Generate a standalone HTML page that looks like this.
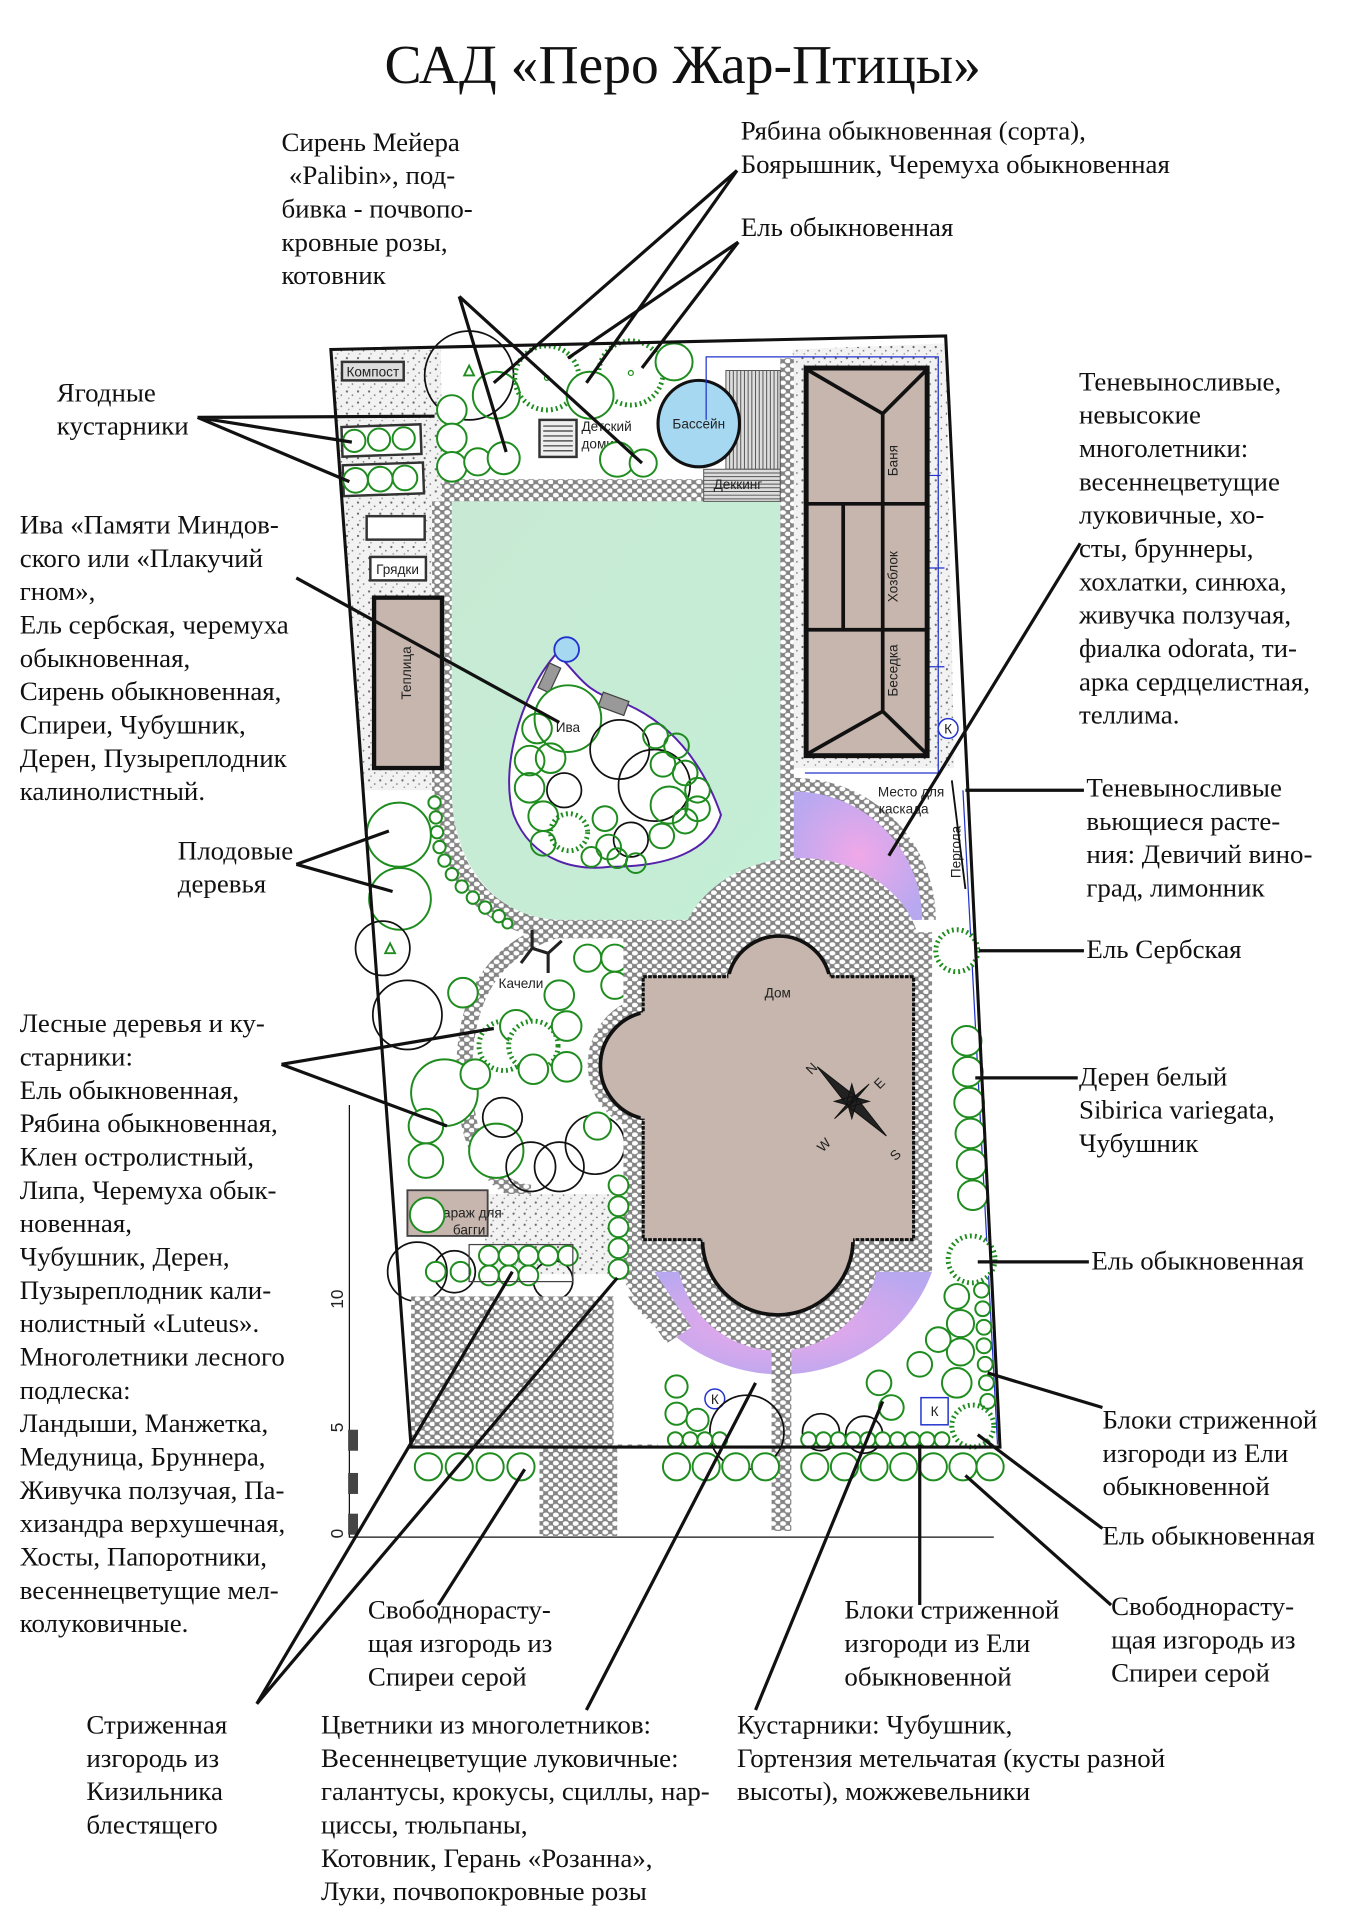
<!DOCTYPE html>
<html><head><meta charset="utf-8"><style>
html,body{margin:0;padding:0;background:#fff}
svg{display:block}
.t{font-family:"Liberation Serif",serif;font-size:21.8px;fill:#111}
.s{font-family:"Liberation Sans",sans-serif;font-size:11px;fill:#222}
.g{fill:#fff;stroke:#1e8c1e;stroke-width:1.6}
.k{fill:none;stroke:#111;stroke-width:1.4}
.sp{fill:#fff;stroke:#1e8c1e;stroke-width:4;stroke-dasharray:1.5 2.5}
.ld{stroke:#111;stroke-width:2.6;fill:none}
</style></head><body>
<svg width="1358" height="1920" viewBox="0 0 1100 1555" xmlns="http://www.w3.org/2000/svg">
<defs>
<pattern id="peb" width="8" height="7" patternUnits="userSpaceOnUse">
<rect width="8" height="7" fill="#858585"/>
<ellipse cx="2.2" cy="2" rx="2.5" ry="1.9" fill="#fff"/>
<ellipse cx="6.2" cy="5.3" rx="2.4" ry="1.8" fill="#fff"/>
</pattern>
<pattern id="stp" width="9" height="9" patternUnits="userSpaceOnUse">
<rect width="9" height="9" fill="#f2f2f2"/>
<circle cx="2" cy="2" r="0.9" fill="#666"/>
<circle cx="6.5" cy="5" r="0.7" fill="#777"/>
<circle cx="3.5" cy="7.5" r="0.6" fill="#888"/>
</pattern>
<radialGradient id="pur" cx="0.5" cy="0.5" r="0.6">
<stop offset="0" stop-color="#f0a8e8"/><stop offset="1" stop-color="#b8a8f0"/>
</radialGradient>
<linearGradient id="lawn" x1="0" y1="0" x2="1" y2="1">
<stop offset="0" stop-color="#c8ead4"/><stop offset="1" stop-color="#c4eed6"/>
</linearGradient>
</defs>

<text x="553" y="67" text-anchor="middle" style="font-family:'Liberation Serif',serif;font-size:45px;fill:#111">САД «Перо Жар-Птицы»</text>

<polygon points="268,283 766,272 810,1172 333,1172" fill="#fff"/>
<polygon points="268,283 357,282 362,640 294,640" fill="url(#stp)"/>
<polygon points="642,283 766,278 773,622 642,622" fill="url(#stp)"/>
<rect x="358" y="388" width="279" height="18" fill="url(#peb)"/>
<path d="M358,406 L358,640 C358,705 395,752 455,752 L636,752" fill="none" stroke="url(#peb)" stroke-width="16"/>
<path d="M366,406 L632,406 L632,745 L455,745 C402,745 366,700 366,640 Z" fill="url(#lawn)"/>
<rect x="632" y="290" width="11" height="460" fill="url(#peb)"/>
<g stroke="#555" stroke-width="0.8">
<rect x="588" y="300" width="44" height="80" fill="#ddd"/>
<path d="M591,300V380M594,300V380M597,300V380M600,300V380M603,300V380M606,300V380M609,300V380M612,300V380M615,300V380M618,300V380M621,300V380M624,300V380M627,300V380M630,300V380"/>
<rect x="570" y="380" width="62" height="26" fill="#ddd"/>
<path d="M570,383H632M570,386H632M570,389H632M570,392H632M570,395H632M570,398H632M570,401H632M570,404H632"/>
</g>
<text x="578" y="396" class="s">Деккинг</text>
<ellipse cx="566" cy="343" rx="33" ry="35" fill="#a6d8f2" stroke="#111" stroke-width="2.5"/>
<text x="566" y="347" class="s" text-anchor="middle">Бассейн</text>
<rect x="437" y="340" width="30" height="30" fill="#eee" stroke="#333" stroke-width="2"/>
<path d="M440,345H464M440,349H464M440,353H464M440,357H464M440,361H464M440,365H464" stroke="#555" stroke-width="1.2"/>
<text x="471" y="349" class="s">Детский</text><text x="471" y="363" class="s">домик</text>
<path d="M572,340V289H760V626H652" fill="none" stroke="#2233cc" stroke-width="1"/>
<path d="M752,460H765M752,385H762M752,540H765" stroke="#2233cc" stroke-width="1"/>
<circle cx="768" cy="590" r="8" fill="#fff" stroke="#2233cc" stroke-width="1.2"/>
<text x="768" y="594" class="s" text-anchor="middle">К</text>
<rect x="653" y="298" width="98" height="314" fill="#c6b6ae" stroke="#111" stroke-width="4"/>
<path d="M655,300L715,335L750,300M715,335V576M655,610L715,576L750,610M653,408H751M653,510H751M683,408V510" stroke="#111" stroke-width="3" fill="none"/>
<text transform="translate(727,373) rotate(-90)" class="s" text-anchor="middle">Баня</text>
<text transform="translate(727,467) rotate(-90)" class="s" text-anchor="middle">Хозблок</text>
<text transform="translate(727,543) rotate(-90)" class="s" text-anchor="middle">Беседка</text>

<rect x="277" y="293" width="50" height="15" fill="#ddd" stroke="#333" stroke-width="2"/>
<text x="302" y="305" class="s" text-anchor="middle">Компост</text>
<rect x="277" y="345" width="64" height="24" fill="#fff" stroke="#333" stroke-width="2" transform="rotate(-2 300 357)"/>
<rect x="278" y="376" width="65" height="25" fill="#fff" stroke="#333" stroke-width="2" transform="rotate(-2 300 388)"/>
<circle cx="287" cy="357" r="9" class="g"/><circle cx="307" cy="356" r="9" class="g"/><circle cx="327" cy="355" r="9" class="g"/>
<circle cx="288" cy="389" r="10" class="g"/><circle cx="308" cy="388" r="10" class="g"/><circle cx="328" cy="387" r="10" class="g"/>
<rect x="297" y="418" width="47" height="19" fill="#fff" stroke="#333" stroke-width="2"/>
<rect x="300" y="451" width="45" height="19" fill="#fff" stroke="#333" stroke-width="2"/>
<text x="322" y="465" class="s" text-anchor="middle">Грядки</text>
<rect x="303" y="484" width="55" height="138" fill="#c6b6ae" stroke="#111" stroke-width="3.5"/>
<text transform="translate(333,545) rotate(-90)" class="s" text-anchor="middle">Теплица</text>

<circle cx="380" cy="304" r="36" class="k"/>
<polygon points="380,296 376,304 384,304" fill="#fff" stroke="#1e8c1e" stroke-width="1.5"/>
<circle cx="443" cy="306" r="26" class="sp"/><circle cx="443" cy="306" r="2" fill="none" stroke="#1e8c1e"/>
<circle cx="511" cy="302" r="26" class="sp"/><circle cx="511" cy="302" r="2" fill="none" stroke="#1e8c1e"/>
<circle cx="402" cy="320" r="19" class="g" style="fill:none"/>
<circle cx="478" cy="320" r="19" class="g"/>
<circle cx="546" cy="293" r="15" class="g"/>
<circle cx="366" cy="332" r="12" class="g"/><circle cx="366" cy="355" r="12" class="g"/>
<circle cx="366" cy="378" r="12" class="g"/><circle cx="387" cy="374" r="11" class="g"/><circle cx="408" cy="371" r="13" class="g"/>
<circle cx="500" cy="372" r="14" class="g"/><circle cx="521" cy="375" r="11" class="g"/>

<path d="M450,530 C420,565 405,625 416,660 C432,700 470,705 494,702 C540,702 575,690 584,660 C570,620 545,585 502,568 C470,560 466,540 450,530 Z" fill="#fff" stroke="#5522aa" stroke-width="1.6"/>
<circle cx="459" cy="526" r="10" fill="#a6d8f2" stroke="#2233cc" stroke-width="1.5"/>
<rect x="440" y="538" width="10" height="22" fill="#999" stroke="#444" transform="rotate(25 445 549)"/>
<rect x="486" y="564" width="22" height="12" fill="#999" stroke="#444" transform="rotate(20 497 570)"/>
<circle cx="460" cy="582" r="27" class="g"/><text x="460" y="593" class="s" text-anchor="middle">Ива</text>
<circle cx="502" cy="607" r="24" class="k"/><circle cx="530" cy="636" r="29" class="k"/><circle cx="457" cy="640" r="14" class="k"/><circle cx="511" cy="680" r="14" class="k"/>
<circle cx="435" cy="590" r="12" class="g" style="fill:none"/><circle cx="429" cy="616" r="12" class="g" style="fill:none"/><circle cx="446" cy="614" r="12" class="g" style="fill:none"/>
<circle cx="429" cy="638" r="12" class="g" style="fill:none"/><circle cx="440" cy="661" r="12" class="g" style="fill:none"/><circle cx="440" cy="683" r="10" class="g" style="fill:none"/>
<circle cx="461" cy="674" r="15" class="sp" style="fill:none"/>
<circle cx="490" cy="663" r="10" class="g" style="fill:none"/><circle cx="493" cy="686" r="10" class="g" style="fill:none"/><circle cx="479" cy="694" r="8" class="g" style="fill:none"/><circle cx="500" cy="695" r="8" class="g" style="fill:none"/><circle cx="515" cy="699" r="8" class="g" style="fill:none"/>
<circle cx="531" cy="596" r="10" class="g" style="fill:none"/><circle cx="548" cy="604" r="10" class="g" style="fill:none"/><circle cx="555" cy="626" r="10" class="g" style="fill:none"/><circle cx="537" cy="619" r="10" class="g" style="fill:none"/>
<circle cx="565" cy="640" r="10" class="g" style="fill:none"/><circle cx="565" cy="655" r="10" class="g" style="fill:none"/><circle cx="542" cy="652" r="15" class="g" style="fill:none"/><circle cx="555" cy="665" r="10" class="g" style="fill:none"/><circle cx="536" cy="677" r="10" class="g" style="fill:none"/>

<circle cx="323" cy="676" r="26" class="g"/><circle cx="324" cy="728" r="25" class="g"/>
<circle cx="310" cy="768" r="22" class="k"/><polygon points="316,764 312,772 320,772" fill="#fff" stroke="#1e8c1e" stroke-width="1.5"/>
<circle cx="330" cy="822" r="28" class="k"/>
<circle cx="352" cy="650" r="5" class="g"/><circle cx="353" cy="662" r="5" class="g"/><circle cx="354" cy="674" r="5" class="g"/><circle cx="356" cy="686" r="5" class="g"/><circle cx="360" cy="697" r="5" class="g"/><circle cx="366" cy="708" r="5" class="g"/><circle cx="374" cy="718" r="5" class="g"/><circle cx="383" cy="727" r="5" class="g"/><circle cx="393" cy="735" r="5" class="g"/><circle cx="404" cy="742" r="5" class="g"/><circle cx="411" cy="748" r="4" class="g"/>

<path d="M455,752 C390,770 376,820 376,870 C376,930 400,965 430,966" fill="none" stroke="url(#peb)" stroke-width="13"/>
<rect x="393" y="967" width="103" height="65" fill="url(#stp)"/>
<rect x="330" y="964" width="65" height="37" fill="#c6b6ae" stroke="#444" stroke-width="1.5"/>
<text x="380" y="986" class="s" text-anchor="middle">Гараж для</text><text x="380" y="1000" class="s" text-anchor="middle">багги</text>
<g stroke="#222" stroke-width="2.5" fill="none"><path d="M431,753V768L422,780M431,768L444,772L455,762M444,772V788"/></g>
<text x="422" y="800" class="s" text-anchor="middle">Качели</text>
<circle cx="375" cy="804" r="12" class="g"/><circle cx="408" cy="847" r="20" class="sp"/><circle cx="360" cy="885" r="27" class="g"/>
<circle cx="345" cy="912" r="14" class="g"/><circle cx="345" cy="940" r="14" class="g"/><circle cx="385" cy="870" r="12" class="g"/>
<circle cx="346" cy="984" r="14" class="g"/><circle cx="402" cy="932" r="22" class="g"/>
<circle cx="407" cy="905" r="16" class="k"/><circle cx="430" cy="945" r="20" class="k"/><circle cx="453" cy="945" r="20" class="k"/><circle cx="482" cy="927" r="24" class="k"/>
<circle cx="418" cy="831" r="13" class="g"/><circle cx="432" cy="847" r="20" class="sp"/><circle cx="432" cy="866" r="12" class="g"/>
<circle cx="459" cy="831" r="12" class="g"/><circle cx="459" cy="864" r="12" class="g"/><circle cx="484" cy="912" r="11" class="g"/>
<circle cx="453" cy="806" r="12" class="g"/><circle cx="476" cy="776" r="11" class="g"/><circle cx="498" cy="776" r="11" class="g"/><circle cx="498" cy="798" r="11" class="g"/>
<circle cx="338" cy="1030" r="24" class="k"/><circle cx="368" cy="1030" r="17" class="k"/><circle cx="448" cy="1037" r="16" class="k"/>

<path d="M643,745 L643,630 A115,115 0 0 1 758,745 Z" fill="url(#peb)"/>
<path d="M643,745 L643,641 A104,104 0 0 1 747,745 Z" fill="url(#pur)"/>
<ellipse cx="648" cy="775" rx="98" ry="80" fill="url(#peb)"/>
<rect x="505" y="755" width="250" height="275" fill="url(#peb)"/>
<circle cx="532" cy="862" r="56" fill="url(#peb)"/>
<rect x="333" y="1050" width="200" height="122" fill="url(#peb)"/>
<path d="M497,1030 A143,143 0 0 0 755,1030 L755,1170 L497,1170 Z" fill="#fff"/>
<path d="M510,1030 A130,125 0 0 0 755,1030 Z" fill="url(#pur)"/>
<path d="M500,1030 L530,1030 L560,1075 L540,1088 Z" fill="url(#peb)"/>
<circle cx="630" cy="1012" r="82" fill="url(#peb)"/>
<rect x="625" y="1085" width="16" height="155" fill="url(#peb)"/>
<rect x="437" y="1172" width="63" height="72" fill="url(#peb)"/>
<rect x="521" y="791" width="219" height="213" fill="#c6b6ae" stroke="#111" stroke-width="2.5" stroke-dasharray="3 1"/>
<path d="M590,791 A42,42 0 0 1 672,791" fill="#c6b6ae" stroke="#111" stroke-width="3"/>
<path d="M521,820 A44,44 0 0 0 521,906" fill="#c6b6ae" stroke="#111" stroke-width="3"/>
<path d="M569,1004 A61,61 0 0 0 691,1004" fill="#c6b6ae" stroke="#111" stroke-width="3"/>
<rect x="590" y="789" width="82" height="6" fill="#c6b6ae"/>
<rect x="519" y="820" width="6" height="86" fill="#c6b6ae"/>
<rect x="569" y="1000" width="122" height="6" fill="#c6b6ae"/>
<text x="630" y="808" class="s" text-anchor="middle">Дом</text>
<g transform="translate(690,892)">
<path d="M-28,-28 L3,-4 L-3,4 Z M28,28 L-3,4 L3,-4 Z M-14,14 L-2,0 L2,0Z M14,-14 L0,-2 L0,2Z M0,-14 L4,0 L0,14 L-4,0Z M-14,0 L0,-4 L14,0 L0,4Z" fill="#222" stroke="#111" stroke-width="0.8"/>
</g>
<text x="660" y="868" class="s" transform="rotate(-45 660 868)" text-anchor="middle">N</text>
<text x="715" y="880" class="s" transform="rotate(-45 715 880)" text-anchor="middle">E</text>
<text x="670" y="930" class="s" transform="rotate(-45 670 930)" text-anchor="middle">W</text>
<text x="728" y="938" class="s" transform="rotate(-45 728 938)" text-anchor="middle">S</text>

<text transform="translate(778,690) rotate(-90)" class="s" text-anchor="middle">Пергола</text>
<text x="738" y="645" class="s" text-anchor="middle">Место для</text><text x="732" y="659" class="s" text-anchor="middle">каскада</text>
<path d="M771,632 L782,720" stroke="#111" stroke-width="1.5"/>
<path d="M780,640 L808,1170" stroke="#2233cc" stroke-width="1"/>
<circle cx="775" cy="770" r="17" class="sp"/>
<circle cx="783" cy="843" r="12" class="g"/><circle cx="784" cy="868" r="12" class="g"/><circle cx="785" cy="893" r="12" class="g"/><circle cx="786" cy="918" r="12" class="g"/><circle cx="787" cy="943" r="12" class="g"/><circle cx="788" cy="968" r="12" class="g"/>
<circle cx="787" cy="1020" r="19" class="sp"/>
<circle cx="795" cy="1045" r="6" class="g"/><circle cx="796" cy="1060" r="6" class="g"/><circle cx="797" cy="1075" r="6" class="g"/><circle cx="797" cy="1090" r="6" class="g"/><circle cx="798" cy="1105" r="6" class="g"/><circle cx="799" cy="1120" r="6" class="g"/><circle cx="800" cy="1135" r="6" class="g"/>
<circle cx="775" cy="1050" r="10" class="g"/><circle cx="778" cy="1072" r="11" class="g"/><circle cx="778" cy="1095" r="11" class="g"/><circle cx="760" cy="1085" r="10" class="g"/><circle cx="745" cy="1105" r="10" class="g"/><circle cx="775" cy="1120" r="12" class="g"/>
<circle cx="788" cy="1155" r="17" class="sp"/>
<rect x="746" y="1132" width="22" height="22" fill="#fff" stroke="#2233cc" stroke-width="1.2"/><text x="757" y="1147" class="s" text-anchor="middle">К</text>
<circle cx="579" cy="1133" r="8" fill="#fff" stroke="#2233cc" stroke-width="1.2"/><text x="579" y="1137" class="s" text-anchor="middle">К</text>
<circle cx="605" cy="1160" r="30" class="k"/><circle cx="665" cy="1160" r="15" class="k"/><circle cx="700" cy="1162" r="15" class="k"/>
<circle cx="548" cy="1123" r="9" class="g"/><circle cx="548" cy="1145" r="9" class="g"/><circle cx="565" cy="1150" r="9" class="g"/><circle cx="722" cy="1140" r="10" class="g"/><circle cx="712" cy="1120" r="10" class="g"/>
<g>
<circle cx="547" cy="1166" r="6" class="g"/><circle cx="559" cy="1166" r="6" class="g"/><circle cx="571" cy="1166" r="6" class="g"/><circle cx="583" cy="1166" r="6" class="g"/>
<circle cx="655" cy="1166" r="6" class="g"/><circle cx="667" cy="1166" r="6" class="g"/><circle cx="679" cy="1166" r="6" class="g"/><circle cx="691" cy="1166" r="6" class="g"/><circle cx="703" cy="1166" r="6" class="g"/><circle cx="715" cy="1166" r="6" class="g"/><circle cx="727" cy="1166" r="6" class="g"/><circle cx="739" cy="1166" r="6" class="g"/><circle cx="751" cy="1166" r="6" class="g"/><circle cx="763" cy="1166" r="6" class="g"/>
</g>
<circle cx="396" cy="1017" r="8" class="g"/><circle cx="412" cy="1017" r="8" class="g"/><circle cx="428" cy="1017" r="8" class="g"/><circle cx="444" cy="1017" r="8" class="g"/><circle cx="460" cy="1017" r="8" class="g"/>
<circle cx="353" cy="1030" r="8" class="g"/><circle cx="373" cy="1030" r="8" class="g"/><circle cx="396" cy="1033" r="8" class="g"/><circle cx="412" cy="1033" r="8" class="g"/><circle cx="428" cy="1033" r="8" class="g"/>
<circle cx="501" cy="960" r="8" class="g"/><circle cx="501" cy="977" r="8" class="g"/><circle cx="501" cy="994" r="8" class="g"/><circle cx="501" cy="1011" r="8" class="g"/><circle cx="501" cy="1028" r="8" class="g"/>
<rect x="380" y="1008" width="84" height="30" fill="none" stroke="#444" stroke-width="1"/>

<path d="M268,283 L766,272 L810,1172 L333,1172 Z" fill="none" stroke="#111" stroke-width="2.5"/>
<circle cx="347" cy="1188" r="11" class="g"/><circle cx="372" cy="1188" r="11" class="g"/><circle cx="397" cy="1188" r="11" class="g"/><circle cx="422" cy="1188" r="11" class="g"/>
<circle cx="548" cy="1188" r="11" class="g"/><circle cx="572" cy="1188" r="11" class="g"/><circle cx="596" cy="1188" r="11" class="g"/><circle cx="620" cy="1188" r="11" class="g"/>
<circle cx="660" cy="1188" r="11" class="g"/><circle cx="684" cy="1188" r="11" class="g"/><circle cx="708" cy="1188" r="11" class="g"/><circle cx="732" cy="1188" r="11" class="g"/><circle cx="756" cy="1188" r="11" class="g"/><circle cx="780" cy="1188" r="11" class="g"/><circle cx="802" cy="1188" r="11" class="g"/>
<path d="M283,895 V1245 H805" stroke="#111" stroke-width="1" fill="none"/>
<rect x="282" y="1158" width="8" height="17" fill="#444"/><rect x="282" y="1193" width="8" height="17" fill="#444"/><rect x="282" y="1226" width="8" height="17" fill="#444"/>
<text transform="translate(278,1060) rotate(-90)" class="s" style="font-size:14px">10</text>
<text transform="translate(278,1160) rotate(-90)" class="s" style="font-size:14px">5</text>
<text transform="translate(278,1246) rotate(-90)" class="s" style="font-size:14px">0</text>

<g class="ld">
<path d="M372,240L410,366M372,240L520,375"/>
<path d="M597,138L400,310M597,138L475,310"/>
<path d="M598,196L460,290M598,196L520,298"/>
<path d="M160,338L352,337M160,338L285,358M160,338L283,390"/>
<path d="M240,468L453,585"/>
<path d="M240,700L315,673M240,700L318,722"/>
<path d="M228,862L400,833M228,862L362,912"/>
<path d="M875,440L720,693"/>
<path d="M782,640H878"/>
<path d="M793,770H878"/>
<path d="M790,873H873"/>
<path d="M792,1022H882"/>
<path d="M800,1112L893,1140"/>
<path d="M792,1162L893,1238"/>
<path d="M782,1195L900,1300"/>
<path d="M745,1170V1300"/>
<path d="M715,1135L612,1385"/>
<path d="M612,1120L475,1385"/>
<path d="M208,1380L415,1030M208,1380L500,1035"/>
<path d="M355,1300L425,1190"/>
</g>

<g class="t">
<text x="228" y="122">Сирень Мейера</text><text x="234" y="149">«Palibin», под-</text><text x="228" y="176">бивка - почвопо-</text><text x="228" y="203">кровные розы,</text><text x="228" y="230">котовник</text>
<text x="600" y="113">Рябина обыкновенная (сорта),</text><text x="600" y="140">Боярышник, Черемуха обыкновенная</text>
<text x="600" y="191">Ель обыкновенная</text>
<text x="46" y="325">Ягодные</text><text x="46" y="352">кустарники</text>
<text x="16" y="432">Ива «Памяти Миндов-</text><text x="16" y="459">ского или «Плакучий</text><text x="16" y="486">гном»,</text><text x="16" y="513">Ель сербская, черемуха</text><text x="16" y="540">обыкновенная,</text><text x="16" y="567">Сирень обыкновенная,</text><text x="16" y="594">Спиреи, Чубушник,</text><text x="16" y="621">Дерен, Пузыреплодник</text><text x="16" y="648">калинолистный.</text>
<text x="144" y="696">Плодовые</text><text x="144" y="723">деревья</text>
<text x="16" y="836">Лесные деревья и ку-</text><text x="16" y="863">старники:</text><text x="16" y="890">Ель обыкновенная,</text><text x="16" y="917">Рябина обыкновенная,</text><text x="16" y="944">Клен остролистный,</text><text x="16" y="971">Липа, Черемуха обык-</text><text x="16" y="998">новенная,</text><text x="16" y="1025">Чубушник, Дерен,</text><text x="16" y="1052">Пузыреплодник кали-</text><text x="16" y="1079">нолистный «Luteus».</text><text x="16" y="1106">Многолетники лесного</text><text x="16" y="1133">подлеска:</text><text x="16" y="1160">Ландыши, Манжетка,</text><text x="16" y="1187">Медуница, Бруннера,</text><text x="16" y="1214">Живучка ползучая, Па-</text><text x="16" y="1241">хизандра верхушечная,</text><text x="16" y="1268">Хосты, Папоротники,</text><text x="16" y="1295">весеннецветущие мел-</text><text x="16" y="1322">колуковичные.</text>
<text x="874" y="316">Теневыносливые,</text><text x="874" y="343">невысокие</text><text x="874" y="370">многолетники:</text><text x="874" y="397">весеннецветущие</text><text x="874" y="424">луковичные, хо-</text><text x="874" y="451">сты, бруннеры,</text><text x="874" y="478">хохлатки, синюха,</text><text x="874" y="505">живучка ползучая,</text><text x="874" y="532">фиалка odorata, ти-</text><text x="874" y="559">арка сердцелистная,</text><text x="874" y="586">теллима.</text>
<text x="880" y="645">Теневыносливые</text><text x="880" y="672">вьющиеся расте-</text><text x="880" y="699">ния: Девичий вино-</text><text x="880" y="726">град, лимонник</text>
<text x="880" y="776">Ель Сербская</text>
<text x="874" y="879">Дерен белый</text><text x="874" y="906">Sibirica variegata,</text><text x="874" y="933">Чубушник</text>
<text x="884" y="1028">Ель обыкновенная</text>
<text x="893" y="1157">Блоки стриженной</text><text x="893" y="1184">изгороди из Ели</text><text x="893" y="1211">обыкновенной</text>
<text x="893" y="1251">Ель обыкновенная</text>
<text x="900" y="1308">Свободнорасту-</text><text x="900" y="1335">щая изгородь из</text><text x="900" y="1362">Спиреи серой</text>
<text x="684" y="1311">Блоки стриженной</text><text x="684" y="1338">изгороди из Ели</text><text x="684" y="1365">обыкновенной</text>
<text x="298" y="1311">Свободнорасту-</text><text x="298" y="1338">щая изгородь из</text><text x="298" y="1365">Спиреи серой</text>
<text x="70" y="1404">Стриженная</text><text x="70" y="1431">изгородь из</text><text x="70" y="1458">Кизильника</text><text x="70" y="1485">блестящего</text>
<text x="260" y="1404">Цветники из многолетников:</text><text x="260" y="1431">Весеннецветущие луковичные:</text><text x="260" y="1458">галантусы, крокусы, сциллы, нар-</text><text x="260" y="1485">циссы, тюльпаны,</text><text x="260" y="1512">Котовник, Герань «Розанна»,</text><text x="260" y="1539">Луки, почвопокровные розы</text>
<text x="597" y="1404">Кустарники: Чубушник,</text><text x="597" y="1431">Гортензия метельчатая (кусты разной</text><text x="597" y="1458">высоты), можжевельники</text>
</g>
</svg>
</body></html>
